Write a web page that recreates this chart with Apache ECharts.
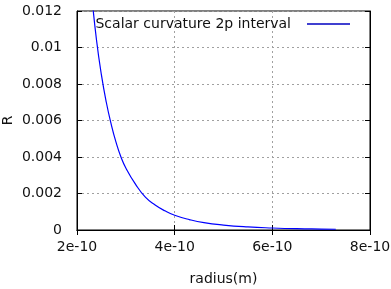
<!DOCTYPE html>
<html><head><meta charset="utf-8">
<script src="https://cdn.jsdelivr.net/npm/echarts@6/dist/echarts.min.js"></script>
<style>html,body{margin:0;padding:0;background:#fff}#c{width:391px;height:289px}</style>
</head><body><div id="c"></div>
<script>
const radius = [2.30e-10,2.40e-10,2.50e-10,2.60e-10,2.70e-10,2.80e-10,2.90e-10,3.00e-10,3.20e-10,3.40e-10,3.60e-10,3.80e-10,4.00e-10,4.30e-10,4.60e-10,5.00e-10,5.50e-10,6.00e-10,6.50e-10,7.00e-10,7.30e-10];
const curvature = [0.0129,0.0104,0.0085,0.0070,0.0058,0.0048,0.0040,0.0034,0.0025,0.0018,0.00137,0.00105,0.00081,0.00057,0.00040,0.00027,0.00017,0.00011,0.00007,0.00005,0.00004];
const xTicks = [2e-10,4e-10,6e-10,8e-10];
const yTicks = [0,0.002,0.004,0.006,0.008,0.01,0.012];
const seriesName = 'Scalar curvature 2p interval';

const font = 'DejaVu Sans';
const chart = echarts.init(document.getElementById('c'), null, {renderer:'canvas'});
const gridLine = {show:true, lineStyle:{color:'#a0a0a0', type:[2,3], width:1}};
const tick = {show:true, inside:true, length:5, lineStyle:{color:'#000'}};
chart.setOption({
  animation:false,
  backgroundColor:'#fff',
  textStyle:{fontFamily:font},
  grid:{left:77, right:21, top:11, bottom:59, containLabel:false, outerBoundsMode:'none',
        show:true, borderColor:'#000', borderWidth:1},
  legend:{
    data:[{name:seriesName}],
    right:36, top:12, align:'right',
    icon:'rect', itemWidth:43, itemHeight:1.5,
    textStyle:{fontFamily:font, fontSize:14, color:'#111', padding:[0,11,0,0]}
  },
  xAxis:[{
    type:'value', min:xTicks[0], max:xTicks[xTicks.length-1], interval:2e-10,
    name:'radius(m)', nameLocation:'middle', nameGap:42, nameMoveOverlap:false,
    nameTextStyle:{fontFamily:font, fontSize:14, color:'#111'},
    axisLine:{show:true, lineStyle:{color:'#000'}},
    axisTick:tick, splitLine:gridLine,
    axisLabel:{fontFamily:font, fontSize:14, color:'#111', margin:10,
      formatter:v=>Math.round(v*1e10)+'e-10'}
  },{
    type:'value', position:'top', min:xTicks[0], max:xTicks[xTicks.length-1], interval:2e-10,
    axisLine:{show:true, lineStyle:{color:'#000'}}, axisTick:tick, axisLabel:{show:false}, splitLine:{show:false}
  }],
  yAxis:[{
    type:'value', min:0, max:0.012, interval:0.002,
    name:'R', nameLocation:'middle', nameGap:62, nameMoveOverlap:false,
    nameTextStyle:{fontFamily:font, fontSize:14, color:'#111'},
    axisLine:{show:true, lineStyle:{color:'#000'}},
    axisTick:tick, splitLine:gridLine,
    axisLabel:{fontFamily:font, fontSize:14, color:'#111', margin:15,
      formatter:v=>String(parseFloat(v.toFixed(4)))}
  },{
    type:'value', position:'right', min:0, max:0.012, interval:0.002,
    axisLine:{show:true, lineStyle:{color:'#000'}}, axisTick:tick, axisLabel:{show:false}, splitLine:{show:false}
  }],
  series:[{
    name:seriesName, type:'line', smooth:true, symbol:'none', clip:true,
    xAxisIndex:0, yAxisIndex:0,
    data:radius.map((r,i)=>[r,curvature[i]]),
    lineStyle:{color:'#0000ff', width:1.2}, itemStyle:{color:'#0000c0'}
  }]
});
</script></body></html>
